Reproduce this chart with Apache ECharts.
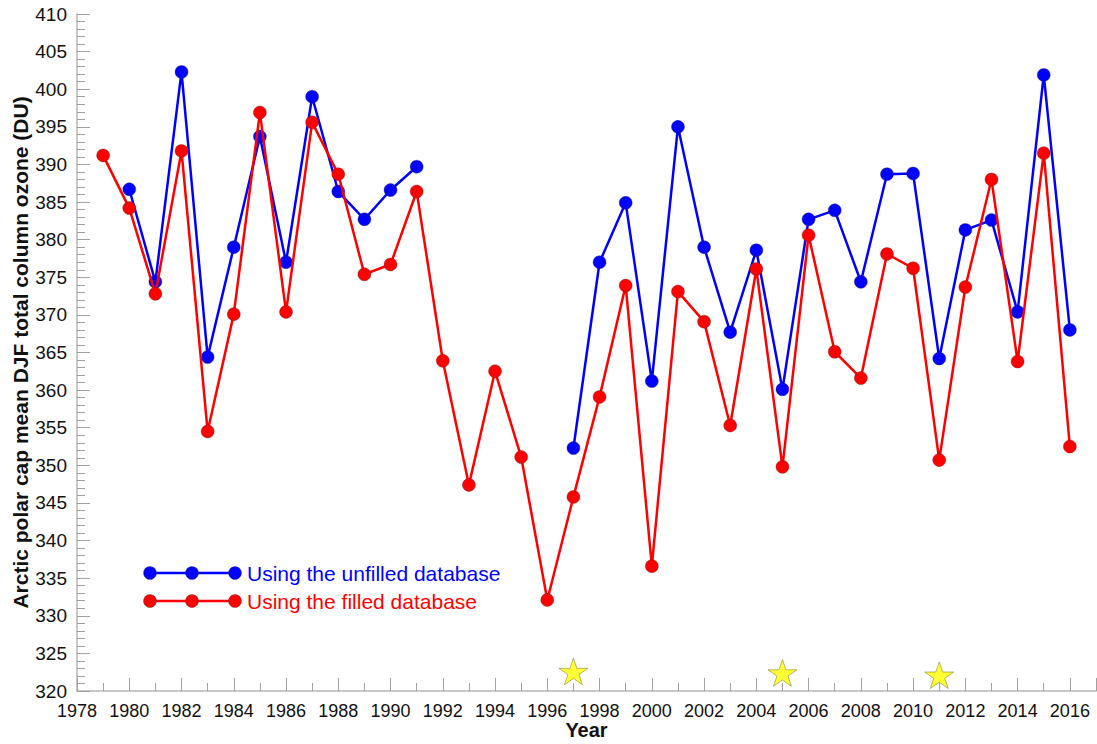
<!DOCTYPE html>
<html>
<head>
<meta charset="utf-8">
<title>Arctic polar cap ozone</title>
<script src="https://cdn.jsdelivr.net/npm/echarts@6/dist/echarts.min.js"></script>
<style>
  html, body { margin: 0; padding: 0; background: #fff; }
  #chart { width: 1097px; height: 744px; }
</style>
</head>
<body>
<div id="chart"></div>
<script>
const years = [1979, 1980, 1981, 1982, 1983, 1984, 1985, 1986, 1987, 1988,
  1989, 1990, 1991, 1992, 1993, 1994, 1995, 1996, 1997, 1998,
  1999, 2000, 2001, 2002, 2003, 2004, 2005, 2006, 2007, 2008,
  2009, 2010, 2011, 2012, 2013, 2014, 2015, 2016]

// null = no value in the unfilled database
const unfilled = [null, 386.7, 374.4, 402.3, 364.4, 379.0, 393.7, 377.0, 399.0, 386.4,
  382.7, 386.6, 389.7, null, null, null, null, null, 352.3, 377.0,
  384.9, 361.2, 395.0, 379.0, 367.7, 378.6, 360.1, 382.7, 383.9, 374.4,
  388.7, 388.8, 364.2, 381.3, 382.6, 370.4, 401.9, 368.0]

const filled = [391.2, 384.2, 372.8, 391.8, 354.5, 370.1, 396.9, 370.4, 395.6, 388.7,
  375.4, 376.7, 386.4, 363.9, 347.4, 362.5, 351.1, 332.1, 345.8, 359.1,
  373.9, 336.6, 373.1, 369.1, 355.3, 376.1, 349.8, 380.6, 365.1, 361.6,
  378.1, 376.2, 350.7, 373.7, 388.0, 363.8, 391.5, 352.5]

const starYears = [1997, 2005, 2011]
const starValues = [322.6, 322.4, 322.1]

const legendNames = ['Using the unfilled database', 'Using the filled database']

const FONT = 'Arial, "Liberation Sans", sans-serif'
const STAR = 'path://M50,0 L61.23,34.55 L97.55,34.55 L68.17,55.9 L79.39,90.45 L50,69.1 L20.61,90.45 L31.83,55.9 L2.45,34.55 L38.77,34.55 Z'

function pairs(vals) {
  return years.map((y, i) => [y, vals[i] === null ? '-' : vals[i]])
}

function legendRow(y, color, text) {
  const xs = [150, 192, 235]
  return [
    { type: 'line', shape: { x1: xs[0], y1: y, x2: xs[2], y2: y }, style: { stroke: color, lineWidth: 2.5 } },
    ...xs.map(x => ({
      type: 'circle', shape: { cx: x, cy: y, r: 6.5 },
      style: { fill: color, stroke: 'rgba(60,60,60,0.6)', lineWidth: 0.6 }
    })),
    { type: 'text', x: 247, y: y, style: { text: text, fill: color, font: '21px ' + FONT, textVerticalAlign: 'middle' } }
  ]
}

const axisLine = { show: true, lineStyle: { color: '#c8c8c8', width: 2 } }

const option = {
  backgroundColor: '#fff',
  animation: false,
  grid: { left: 77, right: 1, top: 14, bottom: 53, outerBoundsMode: 'none' },
  xAxis: {
    type: 'value',
    min: 1978,
    max: 2017,
    interval: 2,
    name: 'Year',
    nameLocation: 'middle',
    nameGap: 29,
    nameMoveOverlap: false,
    nameTextStyle: { fontFamily: FONT, fontSize: 20, fontWeight: 'bold', color: '#111' },
    axisLine: axisLine,
    axisTick: { show: true, inside: true, length: 13, lineStyle: { color: '#a0a0a0', width: 1 } },
    minorTick: { show: true, splitNumber: 2, length: 8, lineStyle: { color: '#a0a0a0', width: 1 } },
    axisLabel: { fontFamily: FONT, fontSize: 18, color: '#111', margin: 11, showMaxLabel: false, formatter: v => String(v) },
    splitLine: { show: false }
  },
  yAxis: {
    type: 'value',
    min: 320,
    max: 410,
    interval: 5,
    name: 'Arctic polar cap mean DJF total column ozone (DU)',
    nameLocation: 'middle',
    nameGap: 46,
    nameMoveOverlap: false,
    nameTextStyle: { fontFamily: FONT, fontSize: 21, fontWeight: 'bold', color: '#111' },
    axisLine: axisLine,
    axisTick: { show: true, inside: true, length: 13, lineStyle: { color: '#a0a0a0', width: 1 } },
    minorTick: { show: true, splitNumber: 5, length: 8, lineStyle: { color: '#a0a0a0', width: 1 } },
    axisLabel: { fontFamily: FONT, fontSize: 19, color: '#111', margin: 10 },
    splitLine: { show: false }
  },
  series: [
    {
      name: legendNames[0],
      type: 'line',
      data: pairs(unfilled),
      symbol: 'circle',
      symbolSize: 13,
      showAllSymbol: true,
      connectNulls: false,
      lineStyle: { color: '#0000ff', width: 2.5 },
      itemStyle: { color: '#0000ff', borderColor: 'rgba(40,40,80,0.6)', borderWidth: 0.6 },
      z: 2
    },
    {
      name: legendNames[1],
      type: 'line',
      data: pairs(filled),
      symbol: 'circle',
      symbolSize: 13,
      showAllSymbol: true,
      lineStyle: { color: '#ff0000', width: 2.5 },
      itemStyle: { color: '#ff0000', borderColor: 'rgba(80,40,40,0.6)', borderWidth: 0.6 },
      z: 3
    },
    {
      type: 'scatter',
      data: starYears.map((y, i) => [y, starValues[i]]),
      symbol: STAR,
      symbolKeepAspect: true,
      symbolSize: [29, 28],
      itemStyle: { color: '#ffff00', borderColor: '#8a8a40', borderWidth: 0.8 },
      z: 4
    }
  ],
  graphic: [
    ...legendRow(573, '#0000ff', legendNames[0]),
    ...legendRow(601, '#ff0000', legendNames[1])
  ]
}

const chart = echarts.init(document.getElementById('chart'), null, { renderer: 'svg' })
chart.setOption(option)
</script>
</body>
</html>
